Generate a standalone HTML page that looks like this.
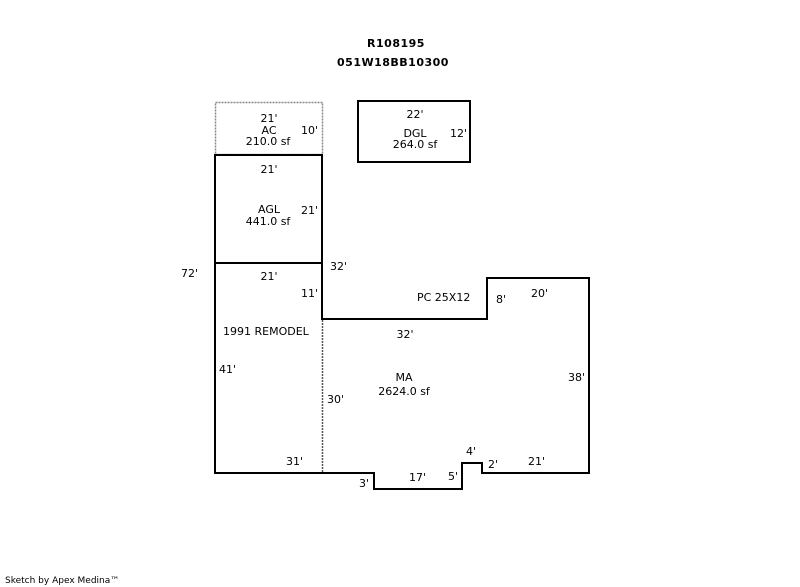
<!DOCTYPE html>
<html><head><meta charset="utf-8"><style>
html,body{margin:0;padding:0;background:#fff;}
svg{display:block;}
text{font-family:"DejaVu Sans","Liberation Sans",sans-serif;font-size:11px;fill:#000;}
.b{font-weight:bold;font-size:11px;letter-spacing:0.5px;}
</style></head><body>
<svg width="800" height="587" viewBox="0 0 800 587" xmlns="http://www.w3.org/2000/svg">
<text class="b" x="396" y="47" text-anchor="middle">R108195</text>
<text class="b" x="393" y="66" text-anchor="middle">051W18BB10300</text>
<!-- AC dotted -->
<rect x="215.5" y="102.5" width="107" height="52" fill="none" stroke="#888" stroke-width="1.5" stroke-dasharray="2,1"/>
<!-- DGL -->
<rect x="358" y="101" width="112" height="61" fill="none" stroke="#000" stroke-width="2"/>
<!-- AGL -->
<rect x="215" y="155" width="107" height="108" fill="none" stroke="#000" stroke-width="2"/>
<!-- main outline -->
<polyline points="322,263 322,319 487,319 487,278 589,278 589,473 482,473 482,463 462,463 462,489 374,489 374,473 215,473 215,263" fill="none" stroke="#000" stroke-width="2"/>
<line x1="322.5" y1="320" x2="322.5" y2="472" stroke="#555" stroke-width="1.5" stroke-dasharray="2,1"/>
<g>
<text x="269" y="122" text-anchor="middle">21'</text>
<text x="269" y="134" text-anchor="middle">AC</text>
<text x="268" y="145" text-anchor="middle">210.0 sf</text>
<text x="301" y="134">10'</text>
<text x="415" y="118" text-anchor="middle">22'</text>
<text x="415" y="137" text-anchor="middle">DGL</text>
<text x="415" y="148" text-anchor="middle">264.0 sf</text>
<text x="450" y="137">12'</text>
<text x="269" y="173" text-anchor="middle">21'</text>
<text x="269" y="213" text-anchor="middle">AGL</text>
<text x="268" y="225" text-anchor="middle">441.0 sf</text>
<text x="301" y="214">21'</text>
<text x="181" y="277">72'</text>
<text x="330" y="270">32'</text>
<text x="269" y="280" text-anchor="middle">21'</text>
<text x="301" y="297">11'</text>
<text x="417" y="301">PC 25X12</text>
<text x="496" y="303">8'</text>
<text x="531" y="297">20'</text>
<text x="223" y="335">1991 REMODEL</text>
<text x="405" y="338" text-anchor="middle">32'</text>
<text x="219" y="373">41'</text>
<text x="404" y="381" text-anchor="middle">MA</text>
<text x="404" y="395" text-anchor="middle">2624.0 sf</text>
<text x="568" y="381">38'</text>
<text x="327" y="403">30'</text>
<text x="286" y="465">31'</text>
<text x="466" y="455">4'</text>
<text x="488" y="468">2'</text>
<text x="528" y="465">21'</text>
<text x="359" y="487">3'</text>
<text x="409" y="481">17'</text>
<text x="448" y="480">5'</text>
</g>
<text x="5" y="583" style="font-size:9px">Sketch by Apex Medina™</text>
</svg>
</body></html>
